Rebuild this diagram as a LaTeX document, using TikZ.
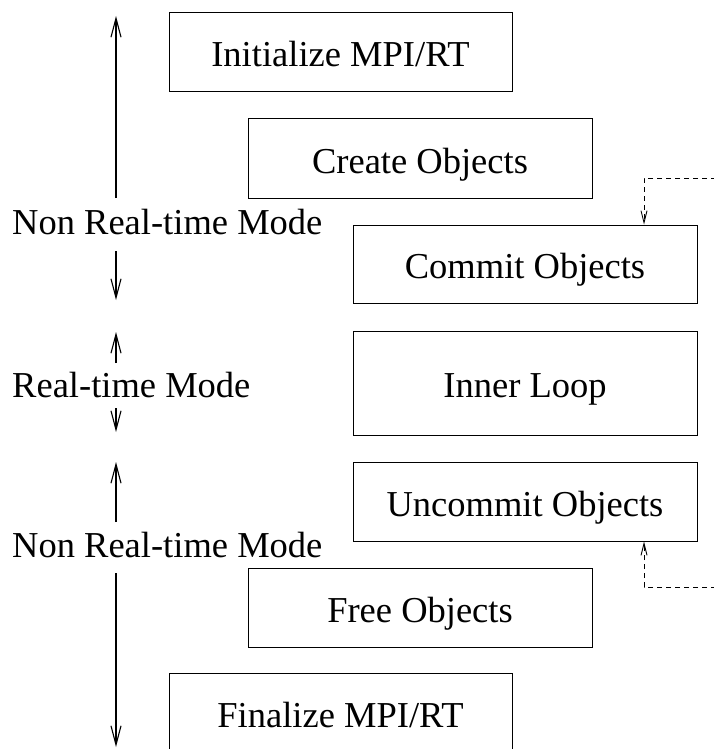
\documentclass[tikz,border=0pt]{standalone}
\usepackage{fontspec}
\setmainfont{Liberation Serif}
\usetikzlibrary{arrows.meta}
\tikzset{
  stepbox/.style={draw, line width=1pt, inner sep=0pt, minimum width=344pt, minimum height=79pt,
    text height=31pt, text depth=2pt, font=\fontsize{36.5}{42}\selectfont},
  modelabel/.style={anchor=base west, inner sep=0pt, font=\fontsize{36.5}{42}\selectfont},
  modearrow/.style={line width=1.1pt, -{Straight Barb[length=19pt,width=10pt,line width=1.1pt]}},
  loopback/.style={line width=0.9pt, dash pattern=on 5pt off 4pt, -{Straight Barb[length=12pt,width=6pt,line width=0.9pt]}}
}
\begin{document}
\begin{tikzpicture}[x=1pt,y=-1pt]
\useasboundingbox (0,0) rectangle (714,749);
\clip (0,0) rectangle (714,749);
% boxes
\node[stepbox, minimum width=343pt] (init) at (340.5,52.5) {Initialize MPI/RT};
\node[stepbox] (create) at (420,158.5) {Create Objects};
\node[stepbox, minimum height=78pt] (commit) at (525,264) {Commit Objects};
\node[stepbox, minimum height=104pt] (inner) at (525,383) {Inner Loop};
\node[stepbox] (uncommit) at (525,501.5) {Uncommit Objects};
\node[stepbox] (free) at (420,607.5) {Free Objects};
\node[stepbox, minimum width=343pt] (final) at (340.5,712.5) {Finalize MPI/RT};
% mode labels
\node[modelabel] (nrt1) at (12,234) {Non Real-time Mode};
\node[modelabel] (rt) at (12,397) {Real-time Mode};
\node[modelabel] (nrt2) at (12,557) {Non Real-time Mode};
% arrow end points
\coordinate (a1s) at (116,198); \coordinate (a1e) at (116,16);
\coordinate (a2s) at (116,251); \coordinate (a2e) at (116,300);
\coordinate (a3s) at (116,363); \coordinate (a3e) at (116,332);
\coordinate (a4s) at (116,408); \coordinate (a4e) at (116,432);
\coordinate (a5s) at (116,522); \coordinate (a5e) at (116,462);
\coordinate (a6s) at (116,573); \coordinate (a6e) at (116,747);
\draw[modearrow] (a1s) -- (a1e);
\draw[modearrow] (a2s) -- (a2e);
\draw[modearrow] (a3s) -- (a3e);
\draw[modearrow] (a4s) -- (a4e);
\draw[modearrow] (a5s) -- (a5e);
\draw[modearrow] (a6s) -- (a6e);
% dashed loop-back connectors
\coordinate (topin) at (716,178);
\coordinate (botin) at (716,587);
\draw[loopback] (topin) -- (644,178) -- (commit.north -| 644,0);
\draw[loopback] (botin) -- (644,587) -- (uncommit.south -| 644,0);
\end{tikzpicture}
\end{document}
